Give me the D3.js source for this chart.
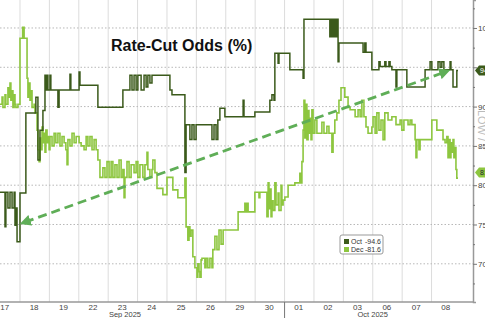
<!DOCTYPE html>
<html>
<head>
<meta charset="utf-8">
<script src="https://cdn.jsdelivr.net/npm/d3@7"></script>
<style>
  body { margin: 0; background: #fff; }
  svg { display: block; font-family: "Liberation Sans", Arial, sans-serif; }
</style>
</head>
<body>
<svg id="chart" width="485" height="318"></svg>
<script>
// trading-day positions: day i spans [i, i+1], 0 = Sep 17
const dayLabels = ["17", "18", "19", "22", "23", "24", "25", "26", "29", "30", "01", "02", "03", "06", "07", "08"];
const monthLabels = ["Sep 2025", "Oct 2025"];
const monthCenters = [4.57, 13.0];
const yTicks = [70, 75, 80, 85, 90, 95, 100];
const seriesNames = ["Oct", "Dec"];
const lastValues = [94.6, 81.6];

// [trading-day position, odds %]
const octOdds = [
  [0.32,79.1],[0.49,74.7],[0.52,79.1],[0.59,77.1],[0.66,79.1],[0.73,77.1],[0.80,79.1],[0.83,74.9],[0.86,77.1],
  [0.90,72.8],[1.00,79.0],[1.20,89.2],[1.54,91.2],[1.61,83.2],[1.68,87.0],[1.78,89.5],[1.85,94.0],[1.88,92.1],
  [1.92,94.0],[1.95,92.1],[2.02,94.0],[2.05,92.1],[2.29,89.9],[2.33,92.1],[2.70,94.1],[2.73,92.1],[3.01,94.4],
  [3.04,92.7],[3.65,89.9],[4.50,92.1],[4.74,94.0],[4.81,92.1],[4.88,94.0],[4.95,92.1],[5.01,94.0],[5.12,92.1],
  [5.22,94.0],[5.29,92.5],[5.35,94.0],[5.42,93.0],[5.49,94.0],[6.10,92.1],[6.17,91.5],[6.61,81.6],[6.65,87.7],
  [6.78,85.8],[6.85,87.7],[6.92,85.8],[6.99,87.7],[7.53,85.8],[7.60,87.7],[7.67,85.8],[7.73,88.3],[7.80,89.8],
  [7.97,88.7],[8.59,90.8],[8.62,88.7],[8.99,89.3],[9.50,90.8],[9.57,91.5],[9.64,90.8],[9.67,96.8],[9.78,95.5],
  [9.81,96.8],[10.18,94.7],[10.63,93.6],[10.66,101.1],[11.54,98.9],[11.58,101.1],[11.61,98.9],[11.65,101.1],
  [11.68,98.9],[11.71,101.1],[11.75,98.9],[11.78,101.1],[11.82,95.7],[11.85,98.1],[12.67,96.9],[12.73,98.1],
  [12.77,96.9],[12.97,94.7],[13.21,95.7],[13.25,95.1],[13.41,95.7],[13.45,95.1],[13.55,95.7],[13.59,95.1],
  [13.65,94.7],[13.79,92.5],[13.82,94.7],[14.16,92.5],[14.78,94.7],[14.95,95.7],[15.01,94.7],[15.22,95.7],
  [15.29,95.0],[15.35,95.7],[15.42,94.7],[15.63,95.7],[15.66,94.7],[15.73,92.5],[15.86,94.6],[15.90,94.6]
];

const decOdds = [
  [0.32,90.3],[0.39,91.2],[0.42,89.9],[0.49,91.5],[0.52,90.3],[0.59,92.4],[0.63,91.2],[0.66,93.0],[0.69,90.8],
  [0.73,92.0],[0.76,89.9],[0.80,91.5],[0.83,90.3],[0.86,89.9],[0.93,90.3],[1.00,98.7],[1.09,100.1],[1.14,98.7],
  [1.24,93.6],[1.27,91.2],[1.31,93.0],[1.34,90.8],[1.37,92.0],[1.41,89.9],[1.48,90.3],[1.51,89.2],[1.58,87.0],
  [1.61,84.5],[1.65,83.0],[1.68,86.0],[1.71,84.5],[1.75,87.4],[1.78,85.4],[1.82,86.6],[1.85,84.2],[1.88,87.0],
  [1.92,85.4],[1.95,86.2],[1.99,84.5],[2.02,86.2],[2.09,85.0],[2.16,86.6],[2.22,85.4],[2.29,86.6],[2.36,85.0],
  [2.43,86.2],[2.50,85.4],[2.56,84.5],[2.60,82.6],[2.63,85.8],[2.70,85.0],[2.77,86.6],[2.84,85.4],[2.91,86.2],
  [3.01,85.4],[3.08,85.0],[3.18,84.5],[3.25,86.2],[3.31,85.0],[3.38,86.2],[3.45,84.5],[3.52,85.8],[3.59,84.5],
  [3.65,83.2],[3.72,81.0],[3.82,82.2],[3.89,81.0],[3.96,83.0],[4.03,81.0],[4.10,83.0],[4.16,81.0],[4.23,82.6],
  [4.30,81.0],[4.37,83.2],[4.44,81.0],[4.50,82.0],[4.54,78.4],[4.57,81.0],[4.64,83.0],[4.71,81.0],[4.78,82.6],
  [4.88,81.6],[4.95,83.0],[5.01,81.0],[5.08,82.6],[5.18,81.0],[5.25,82.6],[5.32,84.2],[5.35,82.0],[5.42,81.0],
  [5.49,82.0],[5.52,83.2],[5.59,81.6],[5.66,79.6],[5.86,78.8],[6.00,81.0],[6.20,79.4],[6.37,78.4],[6.61,80.9],
  [6.65,74.7],[6.71,73.0],[6.75,74.7],[6.78,73.5],[6.82,74.3],[6.88,70.9],[6.95,69.5],[7.02,68.3],[7.05,70.0],
  [7.09,69.0],[7.12,68.3],[7.16,70.5],[7.19,70.7],[7.29,69.5],[7.33,70.7],[7.39,69.5],[7.46,70.7],[7.53,69.5],
  [7.56,71.8],[7.63,73.5],[7.70,71.8],[7.77,74.3],[7.84,72.5],[7.91,74.3],[8.42,76.6],[8.65,77.7],[8.69,76.6],
  [8.72,77.7],[8.76,76.6],[8.99,79.1],[9.13,78.4],[9.16,79.1],[9.40,76.0],[9.44,80.3],[9.47,77.0],[9.50,79.5],
  [9.54,76.0],[9.57,78.0],[9.61,76.8],[9.67,80.3],[9.71,77.5],[9.78,79.0],[9.81,76.8],[9.88,80.0],[9.91,77.5],
  [9.95,78.1],[10.01,78.5],[10.12,80.0],[10.35,80.3],[10.52,81.5],[10.56,80.3],[10.59,83.0],[10.63,87.0],
  [10.66,90.8],[10.69,86.0],[10.73,90.3],[10.76,85.8],[10.80,89.5],[10.83,86.6],[10.86,88.5],[10.90,85.8],
  [10.93,89.6],[10.97,86.6],[11.03,88.3],[11.10,86.6],[11.27,88.0],[11.34,86.6],[11.44,87.5],[11.51,86.6],
  [11.61,84.2],[11.65,86.6],[11.71,88.3],[11.78,89.2],[11.85,90.8],[11.92,92.4],[12.05,91.2],[12.16,89.9],
  [12.23,89.6],[12.40,88.7],[12.50,89.6],[12.57,88.7],[12.63,90.8],[12.70,88.7],[12.77,87.4],[12.84,86.6],
  [12.97,87.4],[13.01,88.7],[13.08,86.6],[13.14,89.2],[13.21,87.0],[13.28,88.3],[13.35,85.8],[13.41,89.2],
  [13.52,88.3],[13.65,88.7],[13.79,87.7],[13.93,88.3],[13.99,87.0],[14.06,88.3],[14.20,87.7],[14.27,88.3],
  [14.33,87.7],[14.44,85.8],[14.47,83.5],[14.50,85.8],[14.57,84.5],[14.61,85.8],[15.01,88.3],[15.18,87.0],
  [15.39,85.8],[15.46,85.4],[15.52,86.2],[15.56,83.5],[15.59,85.8],[15.63,83.5],[15.66,85.4],[15.69,84.2],
  [15.73,85.8],[15.76,83.5],[15.80,84.8],[15.83,82.0],[15.86,80.9],[15.90,80.9]
];

// hand-drawn trend arrow, in data units
const trendFrom = [1.17, 75.3];
const trendTo = [15.46, 94.4];

const darkGreen = "#3b5a1b";
const lightGreen = "#8dc63f";
const arrowGreen = "#5fae57";

const svg = d3.select("#chart");
const plotW = 473, plotH = 302;

const x = d3.scaleLinear().domain([0.32, 16.41]).range([0, plotW]);
const y = d3.scaleLinear().domain([65.14, 103.56]).range([plotH, 0]);

// vertical grid at day boundaries
svg.append("g").selectAll("line")
  .data(d3.range(1, 16))
  .join("line")
  .attr("x1", d => x(d)).attr("x2", d => x(d))
  .attr("y1", 0).attr("y2", plotH)
  .attr("stroke", "#dcdcdc").attr("stroke-width", 1);

// horizontal dotted grid
svg.append("g").selectAll("line")
  .data(yTicks)
  .join("line")
  .attr("x1", 0).attr("x2", plotW)
  .attr("y1", d => y(d)).attr("y2", d => y(d))
  .attr("stroke", "#b8b8b8").attr("stroke-width", 1)
  .attr("stroke-dasharray", "1.5,2");

// title
svg.append("text")
  .attr("x", 111).attr("y", 51)
  .attr("font-size", 16).attr("font-weight", "bold")
  .attr("fill", "#111")
  .text("Rate-Cut Odds (%)");

const line = d3.line()
  .x(d => x(d[0]))
  .y(d => y(d[1]))
  .curve(d3.curveStepAfter);

svg.append("path")
  .datum(decOdds)
  .attr("d", line)
  .attr("fill", "none")
  .attr("stroke", lightGreen)
  .attr("stroke-width", 1.6);

svg.append("path")
  .datum(octOdds)
  .attr("d", line)
  .attr("fill", "none")
  .attr("stroke", darkGreen)
  .attr("stroke-width", 1.5);

// trend arrow
const defs = svg.append("defs");
defs.append("marker")
  .attr("id", "head")
  .attr("viewBox", "0 0 10 10")
  .attr("refX", 5).attr("refY", 5)
  .attr("markerWidth", 4).attr("markerHeight", 4)
  .attr("orient", "auto-start-reverse")
  .append("path")
  .attr("d", "M0,0 L10,5 L0,10 z")
  .attr("fill", arrowGreen);

svg.append("line")
  .attr("x1", x(trendFrom[0])).attr("y1", y(trendFrom[1]))
  .attr("x2", x(trendTo[0])).attr("y2", y(trendTo[1]))
  .attr("stroke", arrowGreen)
  .attr("stroke-width", 2.8)
  .attr("stroke-dasharray", "9,5")
  .attr("marker-start", "url(#head)")
  .attr("marker-end", "url(#head)");

// bottom axis
svg.append("line")
  .attr("x1", 0).attr("x2", plotW)
  .attr("y1", plotH).attr("y2", plotH)
  .attr("stroke", "#999").attr("stroke-width", 1.5);

svg.append("line")
  .attr("x1", x(10)).attr("x2", x(10))
  .attr("y1", plotH).attr("y2", 318)
  .attr("stroke", "#777").attr("stroke-width", 1);

svg.append("g").selectAll("text")
  .data(dayLabels)
  .join("text")
  .attr("x", (d, i) => x(i + 0.48))
  .attr("y", 309.5)
  .attr("text-anchor", "middle")
  .attr("font-size", 8)
  .attr("fill", "#444")
  .text(d => d);

svg.append("g").selectAll("text")
  .data(monthLabels)
  .join("text")
  .attr("x", (d, i) => x(monthCenters[i]))
  .attr("y", 317)
  .attr("text-anchor", "middle")
  .attr("font-size", 7.5)
  .attr("fill", "#444")
  .text(d => d);

// right axis
const yAxis = d3.axisRight(y)
  .tickValues(d3.range(67.5, 103, 2.5))
  .tickSize(3)
  .tickFormat(d => (d % 5 === 0 && d !== 95 ? d3.format("d")(d) : ""));

const ax = svg.append("g")
  .attr("transform", `translate(${plotW},0)`)
  .call(yAxis);
ax.select(".domain").attr("stroke", "#999").attr("stroke-width", 1.5);
ax.selectAll(".tick line").attr("stroke", "#777").attr("x2", d => (d % 5 === 0 ? 4 : 2));
ax.selectAll(".tick text").attr("x", 5).attr("font-size", 8).attr("fill", "#444")
  .attr("font-family", "Liberation Sans, Arial, sans-serif");

svg.append("text")
  .attr("transform", "translate(478,110) rotate(90)")
  .attr("font-size", 11)
  .attr("fill", "#bbb")
  .text("LOW / T");

// last value tags
const tagColors = [darkGreen, lightGreen];
const tagText = ["#fff", "#223"];
lastValues.forEach((v, i) => {
  const ty = y(v);
  svg.append("path")
    .attr("d", `M${plotW + 2},${ty} L${plotW + 6},${ty - 5} L490,${ty - 5} L490,${ty + 5} L${plotW + 6},${ty + 5} Z`)
    .attr("fill", tagColors[i]);
  svg.append("text")
    .attr("x", plotW + 7).attr("y", ty + 2.5)
    .attr("font-size", 7)
    .attr("fill", tagText[i])
    .text(v.toFixed(1));
});

// legend
const lg = svg.append("g").attr("transform", "translate(340,235)");
lg.append("rect")
  .attr("width", 43).attr("height", 19).attr("rx", 2)
  .attr("fill", "#fff").attr("stroke", "#999");
seriesNames.forEach((name, i) => {
  lg.append("rect")
    .attr("x", 4).attr("y", 4 + i * 8)
    .attr("width", 5).attr("height", 5)
    .attr("fill", tagColors[i]);
  lg.append("text")
    .attr("x", 11).attr("y", 9 + i * 8)
    .attr("font-size", 7).attr("fill", "#333")
    .text(name);
  lg.append("text")
    .attr("x", 41).attr("y", 9 + i * 8)
    .attr("text-anchor", "end")
    .attr("font-size", 7).attr("fill", "#333")
    .text("-" + lastValues[i].toFixed(1));
});
</script>
</body>
</html>
